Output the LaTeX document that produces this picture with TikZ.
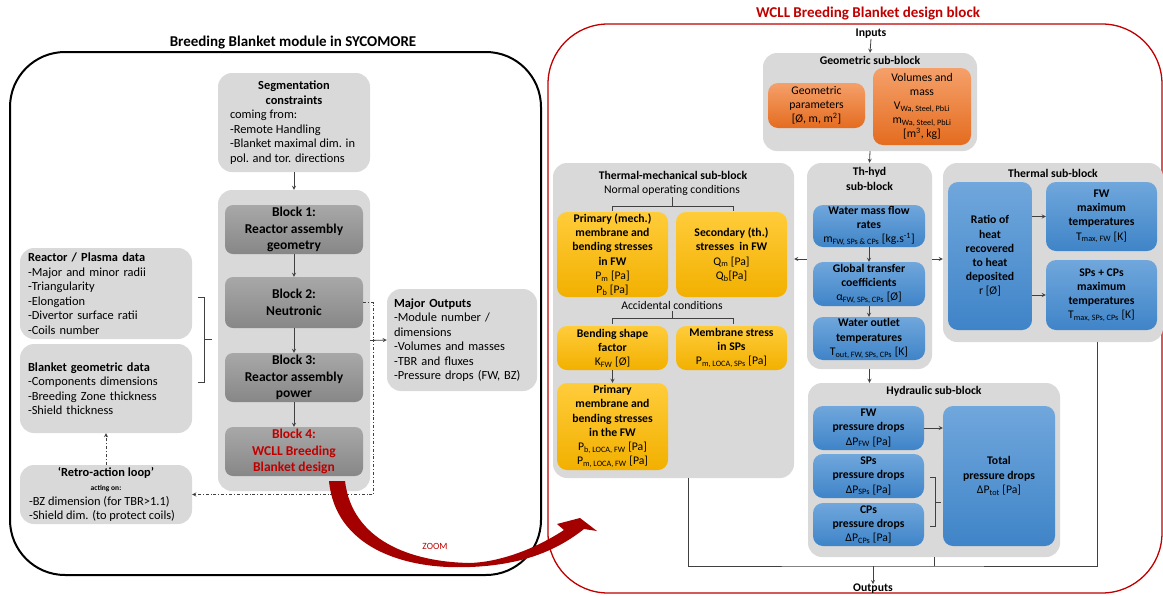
\documentclass[tikz,border=0pt]{standalone}
\usepackage{fontspec}
\setmainfont{Carlito}
\definecolor{lgray}{HTML}{D9D9D9}
\definecolor{blkT}{HTML}{A8A8A8}
\definecolor{blkB}{HTML}{878787}
\definecolor{orT}{HTML}{F5A06A}
\definecolor{orB}{HTML}{E46C1F}
\definecolor{yeT}{HTML}{FFCC3A}
\definecolor{yeB}{HTML}{F2B000}
\definecolor{blT}{HTML}{70A7DC}
\definecolor{blB}{HTML}{3F84C8}
\definecolor{wred}{HTML}{C00000}
\definecolor{zred}{HTML}{A50000}
\definecolor{lnk}{HTML}{404040}
\newcommand\bodyfont{\fontsize{12.4}{14.5}\selectfont}
\newcommand\blkfont{\fontsize{13.5}{16.5}\selectfont\bfseries}
\newcommand\rfont{\fontsize{11.7}{14.2}\selectfont}
\newcommand\ttlfont{\fontsize{15}{18}\selectfont\bfseries}

\begin{document}
\begin{tikzpicture}[x=1pt, y=-1pt, >=stealth,
    cont/.style={fill=lgray, rounded corners=14, inner sep=0pt},
    blk/.style={top color=blkT, bottom color=blkB, rounded corners=8, inner sep=0pt, align=center, font=\blkfont},
    orb/.style={top color=orT, bottom color=orB, rounded corners=10, inner sep=0pt, align=center, font=\rfont},
    yb/.style={top color=yeT, bottom color=yeB, rounded corners=10, inner sep=0pt, align=center, font=\rfont},
    bb/.style={top color=blT, bottom color=blB, rounded corners=10, inner sep=0pt, align=center, font=\rfont},
    ttl/.style={font=\ttlfont, inner sep=0pt},
    sttl/.style={font=\rfont\bfseries, inner sep=0pt, align=center},
    lbox/.style={cont, align=left, font=\bodyfont},
    con/.style={draw=lnk, line width=0.8, ->},
    fb/.style={draw=lnk, line width=0.8, dash dot, ->},
    lnkl/.style={draw=lnk, line width=0.8}]
    \useasboundingbox (0,0) rectangle (1163,595);

    \node[ttl] (lt) at (293,43) {Breeding Blanket module in SYCOMORE};
    \node[draw, line width=2, rounded corners=55, minimum width=531, minimum height=523, inner sep=0pt] (bbm) at (275.5,313.5) {};
    \node[lbox, minimum width=152, minimum height=99] (seg) at (294,122.5) {\makebox[128pt]{\bfseries Segmentation}\\\makebox[128pt]{\bfseries constraints}\\coming from:\\-Remote Handling\\-Blanket maximal dim. in\\pol. and tor. directions};
    \node[cont, minimum width=152, minimum height=301] (blocks) at (294,340.5) {};
    \node[blk, minimum width=138, minimum height=49] (b1) at (294,229.5) {Block 1:\\Reactor assembly\\geometry};
    \node[blk, minimum width=138, minimum height=51] (b2) at (294,302.5) {Block 2:\\Neutronic};
    \node[blk, minimum width=138, minimum height=49] (b3) at (294,377.5) {Block 3:\\Reactor assembly\\power};
    \node[blk, minimum width=138, minimum height=49, text=wred] (b4) at (294,451.5) {Block 4:\\WCLL Breeding\\Blanket design};
    \node[lbox, text width=156, minimum width=172, minimum height=91] (rp) at (106,293.5) {\textbf{Reactor / Plasma data}\\-Major and minor radii\\-Triangularity\\-Elongation\\-Divertor surface ratii\\-Coils number};
    \node[lbox, text width=156, minimum width=172, minimum height=89] (bg) at (106,388.5) {\textbf{Blanket geometric data}\\-Components dimensions\\-Breeding Zone thickness\\-Shield thickness};
    \node[lbox, minimum width=172, minimum height=59] (retro) at (106,494.5) {\makebox[154pt]{\bfseries ‘Retro-action loop’}\\\makebox[154pt]{\fontsize{7.5}{9}\selectfont\bfseries acting on:}\\-BZ dimension (for TBR>1.1)\\-Shield dim. (to protect coils)};
    \node[lbox, text width=136, minimum width=150, minimum height=102] (mo) at (462,340) {\textbf{Major Outputs}\\-Module number /\\dimensions\\-Volumes and masses\\-TBR and fluxes\\-Pressure drops (FW, BZ)};

    \draw[con] (seg.south) -- (blocks.north);
    \draw[con] (b1.south) -- (b2.north);
    \draw[con] (b2.south) -- (b3.north);
    \draw[con] (b3.south) -- (b4.north);
    \draw[con] (blocks.east) -- (mo.west);
    \draw[fb] (b2.east) -- ++(10,0) |- (retro.east);
    \draw[fb] (retro.north) -- (bg.south);
    \draw[lnkl] (198,297) -- (204,297) -- (204,382) -- (198,382) (204,339) -- (212,339);

    \node[ttl, text=wred] (rt) at (868,14) {WCLL Breeding Blanket design block};
    \node[draw=wred, line width=1.3, rounded corners=60, minimum width=614, minimum height=569, inner sep=0pt] (wcll) at (855,308.5) {};
    \node[sttl] (inp) at (871,34) {Inputs};
    \node[cont, minimum width=214, minimum height=98] (geo) at (870,102) {};
    \node[sttl] (geot) at (870,60) {Geometric sub-block};
    \node[orb, minimum width=97, minimum height=45] (gp) at (816.5,105.5) {Geometric\\parameters\\{[Ø, m, m\textsuperscript{2}]}};
    \node[orb, minimum width=98, minimum height=77] (vm) at (922,106.5) {Volumes and\\mass\\V\textsubscript{Wa, Steel, PbLi}\\m\textsubscript{Wa, Steel, PbLi}\\{[m\textsuperscript{3}, kg]}};
    \draw[con] (inp.south) -- (geo.north);

    \node[cont, minimum width=125, minimum height=206] (thyd) at (869.5,266) {};
    \node[sttl] (thydt) at (869.5,179) {Th-hyd\\sub-block};
    \node[bb, minimum width=112, minimum height=42] (wm) at (869,226) {\textbf{Water mass flow}\\\textbf{rates}\\m\textsubscript{FW, SPs \& CPs} [kg.s\textsuperscript{-1}]};
    \node[bb, minimum width=112, minimum height=44] (gt) at (869,284) {\textbf{Global transfer}\\\textbf{coefficients}\\α\textsubscript{FW, SPs, CPs} [Ø]};
    \node[bb, minimum width=112, minimum height=43] (wo) at (869,338.5) {\textbf{Water outlet}\\\textbf{temperatures}\\T\textsubscript{out, FW, SPs, CPs} [K]};
    \draw[con] (geo.south) -- (thyd.north);
    \draw[con] (wm.south) -- (gt.north);
    \draw[con] (gt.south) -- (wo.north);

    \node[cont, minimum width=241, minimum height=315] (tm) at (673.5,320.5) {};
    \node[sttl] (tmt) at (673,175) {Thermal-mechanical sub-block};
    \node[font=\rfont, inner sep=0pt] (noc) at (672,190) {Normal operating conditions};
    \node[yb, minimum width=111, minimum height=85] (pm1) at (612.5,254.5) {\textbf{Primary (mech.)}\\\textbf{membrane and}\\\textbf{bending stresses}\\\textbf{in FW}\\P\textsubscript{m} [Pa]\\P\textsubscript{b} [Pa]};
    \node[yb, minimum width=111, minimum height=85] (st) at (731.5,254.5) {\textbf{Secondary (th.)}\\\textbf{stresses~~in FW}\\Q\textsubscript{m} [Pa]\\Q\textsubscript{b}[Pa]};
    \node[font=\rfont, inner sep=0pt] (acc) at (672,305) {Accidental conditions};
    \node[yb, minimum width=111, minimum height=44] (bs) at (612.5,348) {\textbf{Bending shape}\\\textbf{factor}\\K\textsubscript{FW} [Ø]};
    \node[yb, minimum width=111, minimum height=44] (ms) at (731.5,348) {\textbf{Membrane stress}\\\textbf{in SPs}\\P\textsubscript{m, LOCA, SPs} [Pa]};
    \node[yb, minimum width=111, minimum height=87] (pm2) at (612.5,426.5) {\textbf{Primary}\\\textbf{membrane and}\\\textbf{bending stresses}\\\textbf{in the FW}\\P\textsubscript{b, LOCA, FW} [Pa]\\P\textsubscript{m, LOCA, FW} [Pa]};
    \draw[con] (bs.south) -- (pm2.north);
    \draw[lnkl] (612,211) -- (612,206) -- (733,206) -- (733,211) (672,206) -- (672,197);
    \draw[lnkl] (612,324) -- (612,318) -- (733,318) -- (733,324) (672,318) -- (672,311);
    \draw[con] ([yshift=7]thyd.west) -- ([yshift=7]thyd.west -| tm.east);

    \node[cont, minimum width=220, minimum height=179] (th) at (1053,252.5) {};
    \node[sttl] (tht) at (1053,173) {Thermal sub-block};
    \node[bb, minimum width=84, minimum height=148] (rat) at (990,256) {\textbf{Ratio of}\\\textbf{heat}\\\textbf{recovered}\\\textbf{to heat}\\\textbf{deposited}\\r [Ø]};
    \node[bb, minimum width=111, minimum height=69] (fwt) at (1101.5,216.5) {\textbf{FW}\\\textbf{maximum}\\\textbf{temperatures}\\T\textsubscript{max, FW} [K]};
    \node[bb, minimum width=111, minimum height=70] (spt) at (1101.5,295) {\textbf{SPs + CPs}\\\textbf{maximum}\\\textbf{temperatures}\\T\textsubscript{max, SPs, CPs} [K]};
    \draw[con] ([yshift=7]thyd.east) -- ([yshift=7]thyd.east -| th.west);
    \draw[con] (rat.east |- fwt.west) -- (fwt.west);
    \draw[con] (rat.east |- spt.west) -- (spt.west);

    \node[cont, minimum width=252, minimum height=174] (hyd) at (934,470) {};
    \node[sttl] (hydt) at (934,391) {Hydraulic sub-block};
    \node[bb, minimum width=111, minimum height=44] (fwp) at (868.5,428) {\textbf{FW}\\\textbf{pressure drops}\\ΔP\textsubscript{FW} [Pa]};
    \node[bb, minimum width=111, minimum height=44] (spp) at (868.5,476) {\textbf{SPs}\\\textbf{pressure drops}\\ΔP\textsubscript{SPs} [Pa]};
    \node[bb, minimum width=111, minimum height=43] (cpp) at (868.5,524.5) {\textbf{CPs}\\\textbf{pressure drops}\\ΔP\textsubscript{CPs} [Pa]};
    \node[bb, minimum width=112, minimum height=140] (tot) at (999,476) {\textbf{Total}\\\textbf{pressure drops}\\ΔP\textsubscript{tot} [Pa]};
    \draw[con] (thyd.south) -- (thyd.south |- hyd.north);
    \draw[con] (fwp.east) -- (fwp.east -| tot.west);
    \draw[lnkl] (930,477) -- (935,477) -- (935,526) -- (930,526) (935,502) -- (941,502);

    \coordinate (ob) at (873,566);
    \node[sttl] (outp) at (873,589) {Outputs};
    \draw[lnkl] ([xshift=14.5]tm.south) |- (ob) -| ([xshift=44]th.south);
    \draw[lnkl] (hyd.south) -- (hyd.south |- ob);
    \draw[con] (ob) -- (outp.north);

    \fill[zred] (329,481) .. controls (335,545) and (400,570) .. (470,567) .. controls (520,565) and (555,552) .. (584,529) -- (597,531) -- (580,518) -- (557,524) -- (564,530) .. controls (535,549) and (500,562) .. (470,563) .. controls (410,562) and (352,540) .. (345,481) -- cycle;
    \node[text=wred, font=\fontsize{9.5}{11}\selectfont, inner sep=0pt] (zm) at (435,546) {ZOOM};
\end{tikzpicture}
\end{document}
